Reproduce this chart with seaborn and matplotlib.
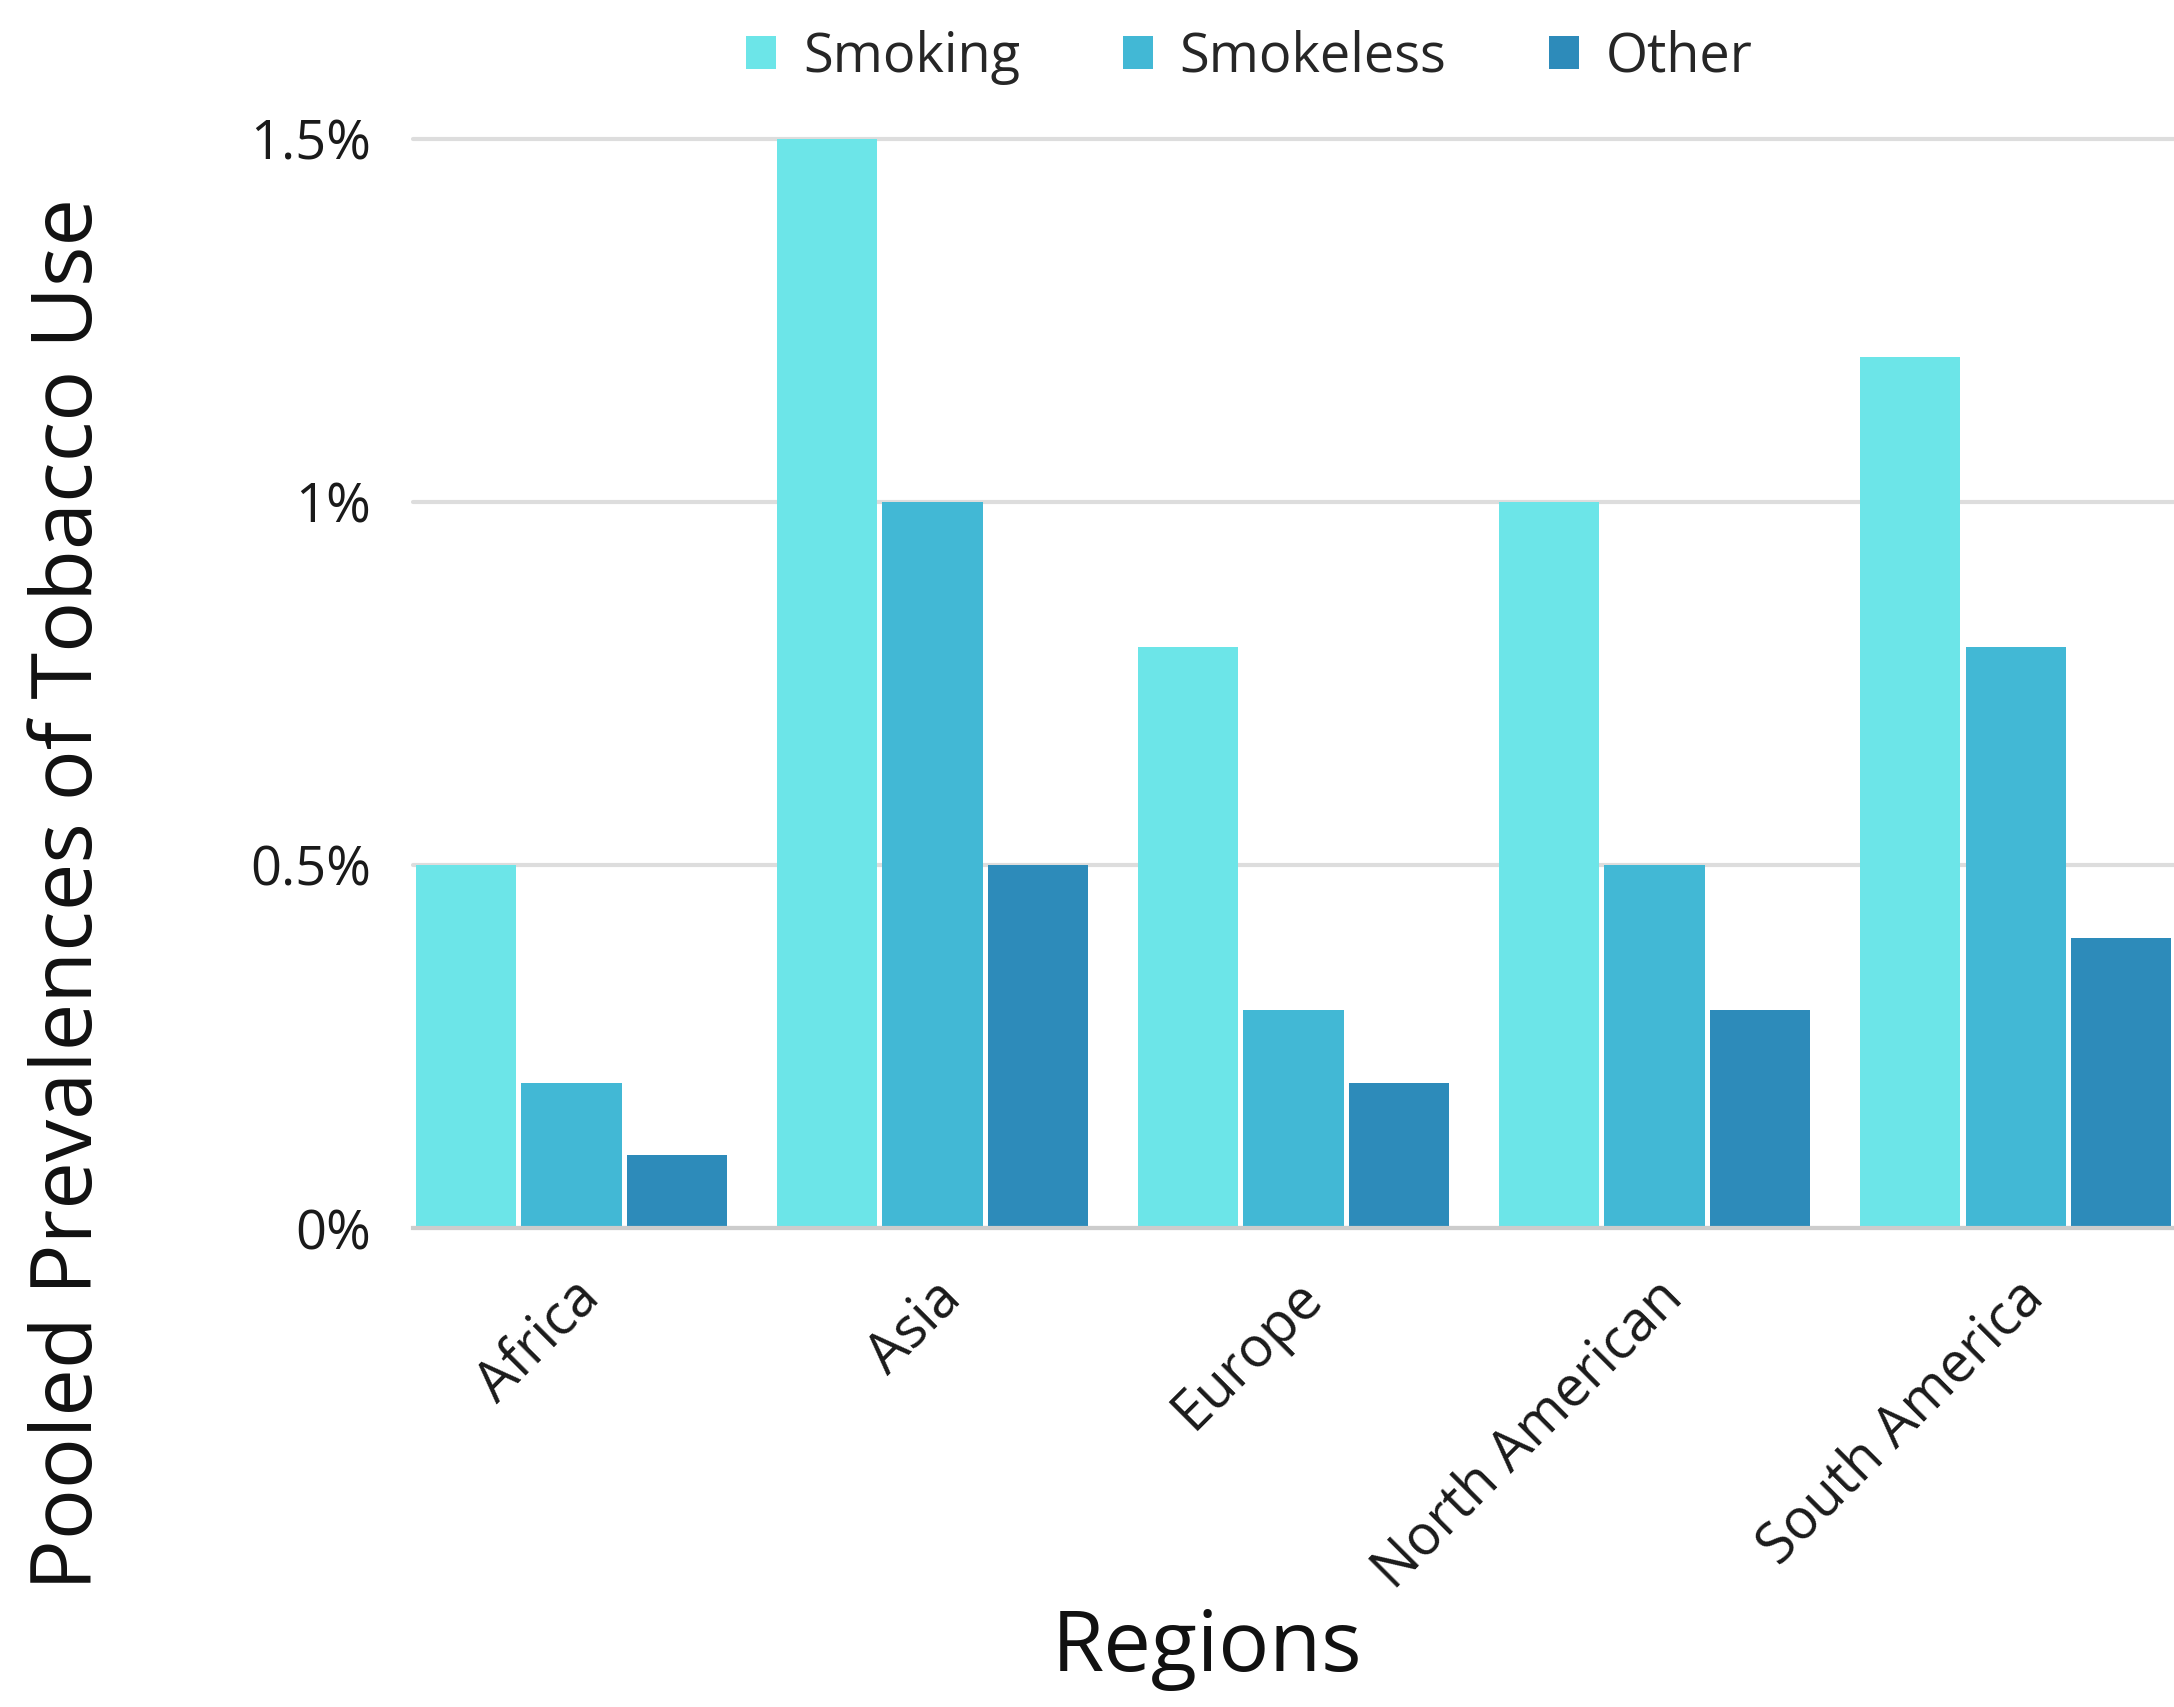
import pandas as pd
import matplotlib.pyplot as plt
import seaborn as sns

# dados
regioes = ["Africa", "Asia", "Europe", "North American", "South America"]
tipos = ["Smoking", "Smokeless", "Other"]
smoking = [0.5, 1.5, 0.8, 1.0, 1.2]
smokeless = [0.2, 1.0, 0.3, 0.5, 0.8]
other = [0.1, 0.5, 0.2, 0.3, 0.4]
y_ticks = [0, 0.5, 1.0, 1.5]
y_ticklabels = ["0%", "0.5%", "1%", "1.5%"]
cores = ["#6CE5E8", "#42B8D5", "#2D8BBA"]

df = pd.DataFrame({
    "regiao": regioes * 3,
    "tipo": [t for t in tipos for _ in regioes],
    "valor": smoking + smokeless + other,
})

sns.set_style("white")
plt.rcParams["font.family"] = ["Open Sans", "DejaVu Sans"]

fig = plt.figure(figsize=(21.74, 17.07), dpi=100)
ax = fig.add_axes([0.19, 0.2806, 0.81, 0.6380])

sns.barplot(
    data=df, x="regiao", y="valor", hue="tipo",
    palette=cores, width=0.877, gap=0.05, ax=ax,
    saturation=1, linewidth=0,
)

ax.set_xlim(-0.4385, 4.4385)
ax.set_ylim(0, 1.5)
ax.set_yticks(y_ticks)
ax.set_yticklabels(y_ticklabels, fontsize=39, color="#1a1a1a")
ax.yaxis.grid(True, color="#dddddd", linewidth=3)
ax.set_axisbelow(True)
for g in ax.get_ygridlines():
    g.set_clip_on(False)
for s in ["top", "right", "left"]:
    ax.spines[s].set_visible(False)
ax.spines["bottom"].set_color("#cccccc")
ax.spines["bottom"].set_linewidth(3)
ax.tick_params(axis="both", length=0)
ax.tick_params(axis="y", pad=30)
ax.tick_params(axis="x", pad=30)

plt.setp(ax.get_xticklabels(), rotation=45, ha="right", rotation_mode="anchor",
         fontsize=40, color="#1a1a1a")

ax.set_xlabel("Regions", fontsize=61, color="#111111")
ax.xaxis.label.set_va("center")
ax.xaxis.set_label_coords(0.451, -0.387)
ax.set_ylabel("Pooled Prevalences of Tobacco Use", fontsize=61, color="#111111")
ax.yaxis.label.set_va("center")
ax.yaxis.set_label_coords(-0.195, 0.307)

leg = ax.legend(
    loc="center", bbox_to_anchor=(0.475, 1.075), ncol=3, frameon=False,
    fontsize=39, handlelength=0.55, handleheight=0.55, columnspacing=1.9,
    handletextpad=0.5,
)

fig.savefig("out.png", dpi=100, facecolor="white")
print("Figura salva: out.png")
